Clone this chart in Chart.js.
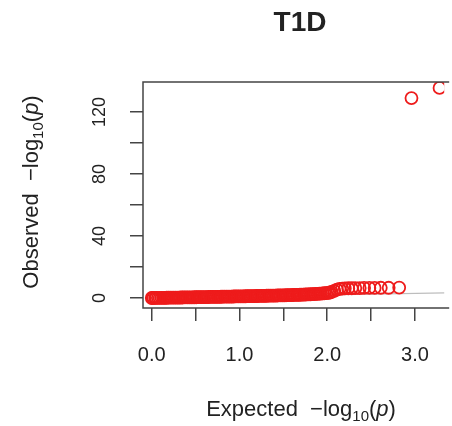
<!DOCTYPE html>
<html>
<head>
<meta charset="utf-8">
<title>T1D</title>
<script src="https://cdn.jsdelivr.net/npm/chart.js@4.4.1/dist/chart.umd.min.js"></script>
<style>
  html, body { margin: 0; padding: 0; background: #fff; }
</style>
</head>
<body>
<canvas id="qq" width="452" height="426"></canvas>
<script>
// expected vs observed -log10(p), sorted
const expected = [
  0.00, 0.01, 0.02, 0.04, 0.05, 0.07, 0.09, 0.11, 0.13, 0.15,
  0.17, 0.19, 0.21, 0.23, 0.25, 0.27, 0.29, 0.31, 0.33, 0.35,
  0.37, 0.39, 0.41, 0.43, 0.45, 0.47, 0.49, 0.51, 0.53, 0.55,
  0.57, 0.59, 0.61, 0.63, 0.65, 0.67, 0.69, 0.71, 0.73, 0.75,
  0.77, 0.79, 0.81, 0.83, 0.85, 0.87, 0.89, 0.91, 0.93, 0.95,
  0.97, 0.99, 1.01, 1.03, 1.05, 1.07, 1.09, 1.11, 1.13, 1.15,
  1.17, 1.19, 1.21, 1.23, 1.25, 1.27, 1.29, 1.31, 1.33, 1.35,
  1.37, 1.39, 1.41, 1.43, 1.45, 1.47, 1.49, 1.51, 1.53, 1.55,
  1.57, 1.59, 1.61, 1.63, 1.65, 1.67, 1.69, 1.71, 1.73, 1.75,
  1.77, 1.79, 1.81, 1.83, 1.85, 1.87, 1.89, 1.91, 1.93, 1.95,
  1.97, 1.99, 2.01, 2.03, 2.05,
  2.08, 2.11, 2.14, 2.17, 2.20, 2.24, 2.28, 2.32, 2.37, 2.42,
  2.48, 2.54, 2.61, 2.70, 2.82,
  2.96, 3.28
];
const observed = [
  0.00, 0.01, 0.02, 0.03, 0.05, 0.06, 0.08, 0.10, 0.12, 0.14,
  0.16, 0.18, 0.20, 0.22, 0.24, 0.26, 0.28, 0.30, 0.32, 0.34,
  0.36, 0.38, 0.40, 0.42, 0.44, 0.46, 0.48, 0.50, 0.52, 0.54,
  0.56, 0.58, 0.61, 0.63, 0.65, 0.67, 0.69, 0.72, 0.74, 0.76,
  0.78, 0.80, 0.83, 0.85, 0.87, 0.89, 0.92, 0.94, 0.96, 0.99,
  1.01, 1.03, 1.06, 1.08, 1.10, 1.13, 1.15, 1.18, 1.20, 1.23,
  1.25, 1.28, 1.30, 1.33, 1.36, 1.38, 1.41, 1.44, 1.47, 1.50,
  1.53, 1.56, 1.59, 1.62, 1.65, 1.68, 1.72, 1.75, 1.79, 1.82,
  1.86, 1.90, 1.94, 1.98, 2.02, 2.06, 2.10, 2.15, 2.20, 2.25,
  2.30, 2.36, 2.42, 2.48, 2.55, 2.62, 2.70, 2.78, 2.87, 2.97,
  3.08, 3.20, 3.35, 3.55, 3.90,
  4.60, 5.40, 5.90, 6.10, 6.20, 6.30, 6.30, 6.40, 6.40, 6.50,
  6.50, 6.50, 6.60, 6.60, 6.70,
  129.0, 135.5
];
// reference line y = x
const nullLine = [0, 3.4];

const xTicks = [0, 0.5, 1, 1.5, 2, 2.5, 3];
const xLabels = [0, 1, 2, 3];
const yTicks = [0, 20, 40, 60, 80, 100, 120];
const yLabels = [0, 40, 80, 120];

const red = '#ee1b1b';
const axisColor = '#444';
const textColor = '#222';
const FONT = '"Liberation Sans", Arial, sans-serif';

// draws "<word> -log10(p)" in pieces so that 10 sits as a subscript
function mathLabel(word) {
  return [
    { t: word, f: '22px ' + FONT, dy: 0 },
    { t: '  \u2212log', f: '22px ' + FONT, dy: 0 },
    { t: '10', f: '15px ' + FONT, dy: 5 },
    { t: '(', f: '22px ' + FONT, dy: 0 },
    { t: 'p', f: 'italic 22px ' + FONT, dy: 0 },
    { t: ')', f: '22px ' + FONT, dy: 0 }
  ];
}

function drawPieces(ctx, pieces) {
  let total = 0;
  pieces.forEach(p => { ctx.font = p.f; p.w = ctx.measureText(p.t).width; total += p.w; });
  let x = -total / 2;
  pieces.forEach(p => {
    ctx.font = p.f;
    ctx.fillText(p.t, x, p.dy);
    x += p.w;
  });
}

const frame = {
  id: 'frame',
  afterDraw(chart) {
    const { ctx, chartArea: a, scales: { y } } = chart;
    ctx.save();

    // box: top, left and bottom edges (right edge falls outside the canvas)
    ctx.strokeStyle = axisColor;
    ctx.lineWidth = 1.5;
    ctx.beginPath();
    ctx.moveTo(a.right + 5, a.top);
    ctx.lineTo(a.left, a.top);
    ctx.lineTo(a.left, a.bottom);
    ctx.lineTo(a.right + 5, a.bottom);
    ctx.stroke();

    ctx.fillStyle = textColor;
    ctx.textBaseline = 'alphabetic';

    // y tick labels run parallel to the axis
    ctx.font = '18px ' + FONT;
    ctx.textAlign = 'center';
    yLabels.forEach(v => {
      ctx.save();
      ctx.translate(105, y.getPixelForValue(v));
      ctx.rotate(-Math.PI / 2);
      ctx.fillText(String(v), 0, 0);
      ctx.restore();
    });

    // title
    ctx.font = 'bold 28px ' + FONT;
    ctx.fillText('T1D', 300, 31);

    ctx.textAlign = 'left';
    // x axis title
    ctx.save();
    ctx.translate(301, 416);
    drawPieces(ctx, mathLabel('Expected'));
    ctx.restore();

    // y axis title
    ctx.save();
    ctx.translate(38, 192);
    ctx.rotate(-Math.PI / 2);
    drawPieces(ctx, mathLabel('Observed'));
    ctx.restore();

    ctx.restore();
  }
};

new Chart(document.getElementById('qq'), {
  type: 'scatter',
  data: {
    datasets: [{
      data: expected.map((e, i) => ({ x: e, y: observed[i] })),
      pointStyle: 'circle',
      pointRadius: 6,
      pointHoverRadius: 6,
      pointBorderWidth: 1.8,
      borderColor: red,
      backgroundColor: 'rgba(0,0,0,0)'
    }, {
      type: 'line',
      data: nullLine.map(v => ({ x: v, y: v })),
      borderColor: '#bdbdbd',
      borderWidth: 1.2,
      pointRadius: 0,
      fill: false
    }]
  },
  options: {
    responsive: false,
    animation: false,
    events: [],
    layout: { padding: { top: 82, right: 0, bottom: 0, left: 0 } },
    plugins: {
      legend: { display: false },
      tooltip: { enabled: false }
    },
    scales: {
      x: {
        type: 'linear',
        min: -0.1,
        max: 3.333,
        afterBuildTicks: s => { s.ticks = xTicks.map(v => ({ value: v })); },
        afterFit: s => { s.height = 118; },
        border: { display: false },
        grid: { drawOnChartArea: false, drawTicks: true, tickLength: 13, color: axisColor, lineWidth: 1.5 },
        ticks: {
          autoSkip: false,
          maxRotation: 0,
          padding: 22,
          color: textColor,
          font: { family: FONT, size: 20 },
          callback: v => xLabels.includes(v) ? v.toFixed(1) : ''
        }
      },
      y: {
        type: 'linear',
        min: -6.45,
        max: 139.35,
        afterBuildTicks: s => { s.ticks = yTicks.map(v => ({ value: v })); },
        afterFit: s => { s.width = 143; },
        border: { display: false },
        grid: { drawOnChartArea: false, drawTicks: true, tickLength: 13, color: axisColor, lineWidth: 1.5 },
        ticks: { autoSkip: false, callback: () => '' }
      }
    }
  },
  plugins: [frame]
});
</script>
</body>
</html>
